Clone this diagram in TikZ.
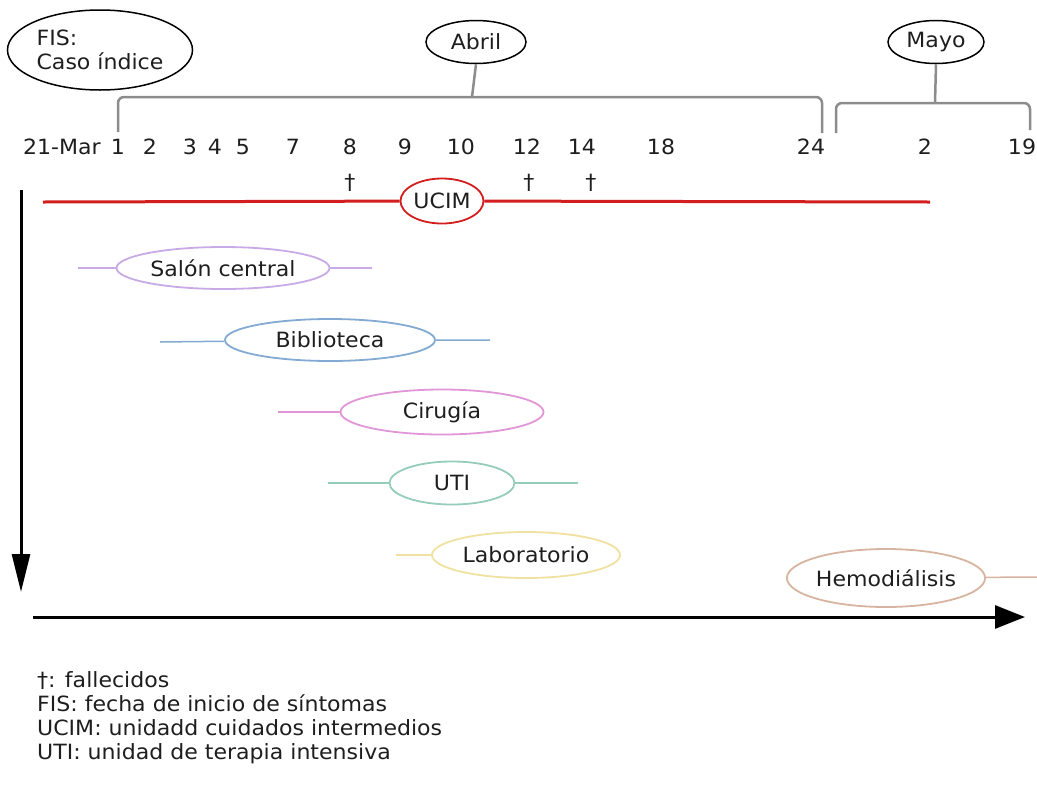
\documentclass[tikz,border=0pt]{standalone}
\usepackage{fontspec}
\setmainfont{DejaVu Sans}[FakeStretch=1.05]
\usetikzlibrary{arrows.meta,shapes.geometric}
\definecolor{UcimClr}{RGB}{210,30,30}
\definecolor{SalonClr}{RGB}{200,170,230}
\definecolor{BiblioClr}{RGB}{130,170,210}
\definecolor{CirugiaClr}{RGB}{225,150,215}
\definecolor{UtiClr}{RGB}{150,205,185}
\definecolor{LaboClr}{RGB}{240,225,160}
\definecolor{HemoClr}{RGB}{215,180,160}
\definecolor{BraceClr}{RGB}{140,140,140}
\definecolor{TextClr}{RGB}{30,30,30}

\begin{document}
\begin{tikzpicture}[x=1pt,y=-1pt,
  every node/.style={font=\fontsize{21}{24}\selectfont,text=TextClr},
  lugar/.style={ellipse,draw,line width=1.8pt,inner sep=0pt,minimum height=42pt},
  tramo/.style={line width=1.5pt},
  mes/.style={ellipse,draw=black,line width=1.5pt,inner sep=0pt},
  llave/.style={draw=BraceClr,line width=2.5pt,rounded corners=6pt},
  eje/.style={line width=3pt}]
\useasboundingbox (0,0) rectangle (1037,788);

\node[mes,minimum width=185pt,minimum height=80pt,align=left] (fis) at (100,50) {FIS:\\Caso índice};
\node[mes,minimum width=100pt,minimum height=43pt] (abril) at (476,42) {Abril};
\node[mes,minimum width=96pt,minimum height=43pt] (mayo) at (936,42) {Mayo};

\foreach \xx/\dd/\nm in {62/21-Mar/dMar21,118/1/dA1,150/2/dA2,190/3/dA3,215/4/dA4,243/5/dA5,
  293/7/dA7,350/8/dA8,405/9/dA9,461/10/dA10,527/12/dA12,582/14/dA14,661/18/dA18,
  811/24/dA24,925/2/dM2,1022/19/dM19}
  \node (\nm) at (\xx,147) {\dd};

\coordinate (abrilA) at (118,132);
\coordinate (abrilM) at (472,97);
\coordinate (abrilB) at (822,133);
\coordinate (mayoA) at (836,133);
\coordinate (mayoM) at (935,103);
\coordinate (mayoB) at (1030,130);
\draw[llave] (abrilA) |- (abrilM) -| (abrilB);
\draw[llave] (abril.south) -- (abrilM);
\draw[llave] (mayoA) |- (mayoM) -| (mayoB);
\draw[llave] (mayo.south) -- (mayoM);

\node (cruz1) at (350,183) {†};
\node (cruz2) at (529,183) {†};
\node (cruz3) at (591,183) {†};

\node[lugar,draw=UcimClr,minimum width=83pt,minimum height=45pt] (ucim) at (442,201) {UCIM};
\coordinate (ucimL) at (43,202);
\coordinate (ucimR) at (930,202);
\draw[UcimClr,line width=3pt] (ucimL) -- (ucim) -- (ucimR);

\node[lugar,draw=SalonClr,minimum width=213pt] (salon) at (223,268) {Salón central};
\coordinate (salonL) at (78,268);
\coordinate (salonR) at (372,268);
\draw[tramo,SalonClr] (salonL) -- (salon) -- (salonR);

\node[lugar,draw=BiblioClr,minimum width=210pt] (biblio) at (330,340) {Biblioteca};
\coordinate (biblioL) at (160,342);
\coordinate (biblioR) at (490,340);
\draw[tramo,BiblioClr] (biblioL) -- (biblio) -- (biblioR);

\node[lugar,draw=CirugiaClr,minimum width=203pt,minimum height=45pt] (cirugia) at (442,412) {Cirugía};
\coordinate (cirugiaL) at (278,412);
\draw[tramo,CirugiaClr] (cirugiaL) -- (cirugia);

\node[lugar,draw=UtiClr,minimum width=125pt,minimum height=43pt] (uti) at (452,483) {UTI};
\coordinate (utiL) at (328,483);
\coordinate (utiR) at (578,483);
\draw[tramo,UtiClr] (utiL) -- (uti) -- (utiR);

\node[lugar,draw=LaboClr,minimum width=188pt,minimum height=46pt] (labo) at (526,555) {Laboratorio};
\coordinate (laboL) at (396,555);
\draw[tramo,LaboClr] (laboL) -- (labo);

\node[lugar,draw=HemoClr,minimum width=178pt,minimum height=58pt] (hemo) at (886,578) {Hemodiálisis};
\coordinate (hemoR) at (1037,577);
\draw[tramo,HemoClr] (hemo) -- (hemoR);

\coordinate (ejeV1) at (21,190);
\coordinate (ejeV2) at (21,592);
\coordinate (ejeH1) at (33,617);
\coordinate (ejeH2) at (1025,617);
\draw[eje,-{Triangle[length=38pt,width=18pt]}] (ejeV1) -- (ejeV2);
\draw[eje,-{Triangle[length=30pt,width=23pt]}] (ejeH1) -- (ejeH2);

\node[anchor=north west,align=left,inner sep=0pt] (leyenda) at (37,671)
  {†: fallecidos\\FIS: fecha de inicio de síntomas\\UCIM: unidadd cuidados intermedios\\UTI: unidad de terapia intensiva};
\end{tikzpicture}
\end{document}
